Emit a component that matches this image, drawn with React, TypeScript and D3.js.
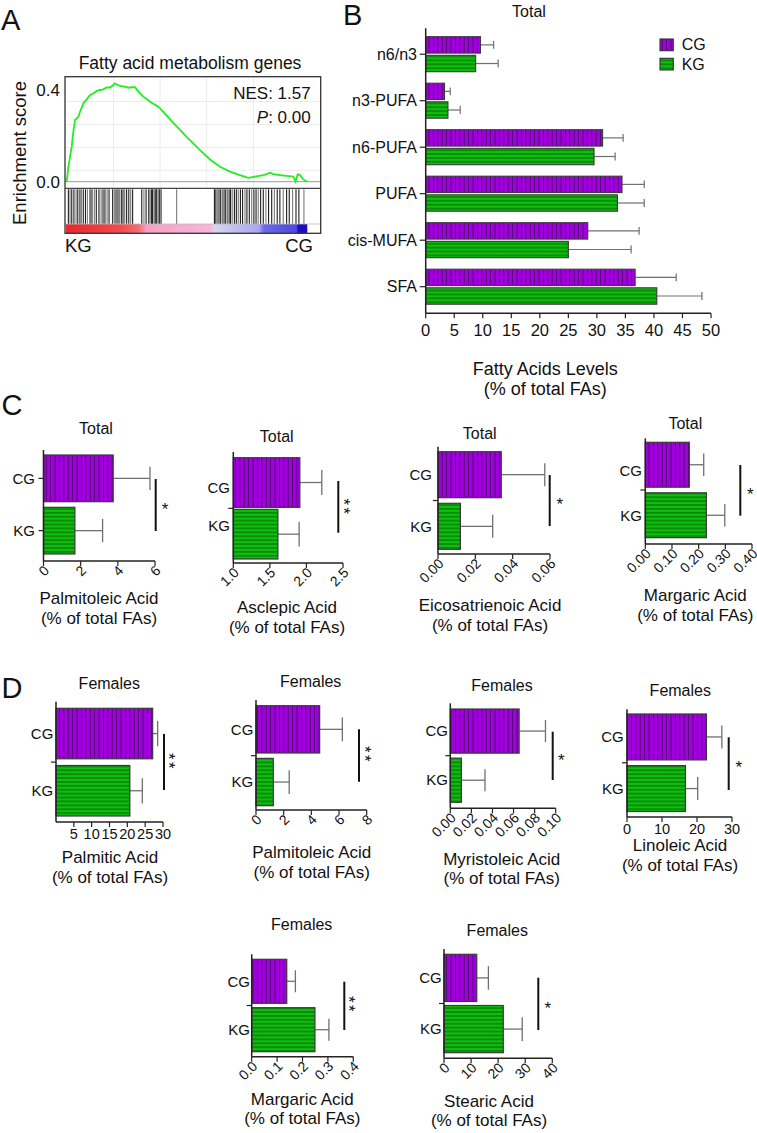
import React from "react";
import * as d3 from "d3";

const FONT = "Arial, 'Liberation Sans', Helvetica, sans-serif";
const PURPLE = "#a000dc";
const PURPLE_LINE = "#4d0a6e";
const GREEN = "#0cc00c";
const GREEN_LINE = "#0a4a0a";
const ERR = "#707070";
const AXIS = "#222";

// ---------------- Panel A: GSEA enrichment plot ----------------
const esRankPct = [0, 0.69, 1.39, 2.08, 2.77, 3.46, 4.16, 4.85, 5.54, 6.93, 8.31, 9.7, 11.08, 12.47, 13.85, 15.24, 16.62, 18.01, 19.39, 20.08, 21.47, 22.85, 24.24, 25.62, 27.01, 28.39, 29.78, 31.86, 34.63, 38.09, 40.17, 44.32, 49.86, 55.4, 59.56, 63.71, 67.87, 72.02, 75.48, 78.25, 81.72, 83.1, 84.49, 85.87, 88.64, 91.41, 94.18, 95.15, 95.98, 96.95, 98.34, 100];
const esValues = [0, 0.065, 0.109, 0.153, 0.218, 0.269, 0.276, 0.284, 0.305, 0.342, 0.359, 0.378, 0.385, 0.396, 0.4, 0.403, 0.411, 0.411, 0.422, 0.429, 0.42, 0.417, 0.415, 0.41, 0.412, 0.412, 0.393, 0.371, 0.349, 0.327, 0.305, 0.257, 0.196, 0.138, 0.097, 0.065, 0.044, 0.029, 0.017, 0.022, 0.029, 0.033, 0.039, 0.033, 0.029, 0.025, 0.022, 0.0, 0.032, 0.029, 0.01, 0.0];
const hitRankPct = [0.7, 1.4, 2.1, 3.0, 3.9, 4.6, 5.5, 6.1, 6.9, 7.8, 8.6, 9.7, 10.5, 11.5, 12.3, 13.4, 14.3, 15.1, 15.9, 16.8, 17.6, 19.1, 19.8, 20.5, 21.3, 21.9, 22.7, 23.4, 24.1, 24.9, 25.8, 26.6, 27.4, 31.2, 32.1, 33.0, 34.1, 34.6, 35.2, 35.7, 36.3, 36.8, 37.4, 38.0, 38.5, 39.2, 45.7, 61.4, 62.0, 62.6, 63.3, 64.0, 64.7, 65.4, 66.1, 66.8, 67.5, 68.1, 68.8, 69.7, 70.5, 71.3, 72.2, 73.1, 74.1, 74.9, 75.9, 76.9, 77.8, 78.7, 79.6, 80.6, 81.7, 82.8, 83.9, 85.2, 86.3, 87.5, 88.6, 90.0, 91.4, 92.5, 93.9, 95.3, 96.5, 98.6];
const esTicks = [0.0, 0.4];

// ---------------- Panel B: total fatty acid levels ----------------
const groups = ["CG", "KG"];
const faCategories = ["n6/n3", "n3-PUFA", "n6-PUFA", "PUFA", "cis-MUFA", "SFA"];
const cgLevels = [9.6, 3.3, 31.0, 34.4, 28.4, 36.7];
const kgLevels = [8.75, 3.9, 29.5, 33.6, 25.0, 40.5];
const cgLevelsErr = [2.3, 1.0, 3.6, 3.9, 9.0, 7.2];
const kgLevelsErr = [3.95, 2.15, 3.7, 4.7, 11.0, 7.9];
const levelTicks = [0, 5, 10, 15, 20, 25, 30, 35, 40, 45, 50];

// ---------------- Panels C & D: individual acids ----------------
const acidNames = ["Palmitoleic Acid", "Asclepic Acid", "Eicosatrienoic Acid", "Margaric Acid", "Palmitic Acid", "Palmitoleic Acid", "Myristoleic Acid", "Linoleic Acid", "Margaric Acid", "Stearic Acid"];
const acidSubsets = ["Total", "Total", "Total", "Total", "Females", "Females", "Females", "Females", "Females", "Females"];
const acidCG = [3.75, 1.91, 0.0339, 0.165, 27.1, 4.6, 0.0653, 22.7, 0.138, 12.1];
const acidKG = [1.69, 1.61, 0.012, 0.229, 20.7, 1.25, 0.0105, 16.7, 0.249, 21.9];
const acidCGErr = [1.98, 0.3, 0.0233, 0.054, 1.4, 1.64, 0.025, 4.4, 0.034, 4.3];
const acidKGErr = [1.49, 0.29, 0.0173, 0.069, 3.5, 1.15, 0.0224, 3.5, 0.055, 7.0];
const acidStars = ["*", "**", "*", "*", "**", "**", "*", "*", "**", "*"];
const acidAxisMin = [0, 1, 0, 0, 0, 0, 0, 0, 0, 0];
const acidAxisMax = [6, 2.5, 0.06, 0.4, 30, 8, 0.1, 30, 0.4, 40];
const acidTicks = [
  [0, 2, 4, 6],
  [1, 1.5, 2, 2.5],
  [0, 0.02, 0.04, 0.06],
  [0, 0.1, 0.2, 0.3, 0.4],
  [5, 10, 15, 20, 25, 30],
  [0, 2, 4, 6, 8],
  [0, 0.02, 0.04, 0.06, 0.08, 0.1],
  [0, 10, 20, 30],
  [0, 0.1, 0.2, 0.3, 0.4],
  [0, 10, 20, 30, 40],
];
const acidTickFormat = ["d", ".1f", ".2f", ".2f", "d", "d", ".2f", "d", ".1f", "d"];

// layout of the small charts (pixel positions only)
type Mini = {
  x0: number; x1: number; axisTop: number; cgTop: number; kgBot: number; gap: number; axisY: number;
  tick: "center" | "between"; labelRight: number; shift: [number, number];
  sigX: number; sigY: [number, number]; star: [number, number];
  title: [number, number]; xlab: [number, number, number]; rotated: boolean;
};
const miniLayout: Mini[] = [
  { x0: 43.5, x1: 155, axisTop: 450, cgTop: 455, kgBot: 554, gap: 5.6, axisY: 561, tick: "center", labelRight: 35, shift: [0, 0], sigX: 155.7, sigY: [479, 531], star: [165, 505], title: [96, 428], xlab: [99, 598, 618], rotated: true },
  { x0: 233.3, x1: 343, axisTop: 452, cgTop: 457.7, kgBot: 559, gap: 2, axisY: 563, tick: "between", labelRight: 230, shift: [5, -8], sigX: 338.3, sigY: [481, 532.7], star: [347.7, 507.5], title: [276.7, 436.7], xlab: [287, 607, 627], rotated: true },
  { x0: 438, x1: 550, axisTop: 446.7, cgTop: 451.7, kgBot: 549.3, gap: 5.6, axisY: 554, tick: "between", labelRight: 432, shift: [0, 0], sigX: 549.7, sigY: [475, 526], star: [559.7, 500], title: [479.7, 433.3], xlab: [490, 605, 625], rotated: true },
  { x0: 645.3, x1: 752, axisTop: 438.3, cgTop: 442.3, kgBot: 537.7, gap: 5.6, axisY: 544, tick: "between", labelRight: 642, shift: [6, 0], sigX: 740.3, sigY: [465, 515.7], star: [750.3, 490], title: [685.3, 423.3], xlab: [695.3, 595, 615], rotated: true },
  { x0: 56, x1: 163, axisTop: 701.7, cgTop: 708.3, kgBot: 816, gap: 6.7, axisY: 822, tick: "between", labelRight: 53.3, shift: [0, 0], sigX: 164, sigY: [734, 790], star: [173.3, 762], title: [109.3, 683.3], xlab: [110, 857, 877], rotated: false },
  { x0: 256, x1: 366.7, axisTop: 700, cgTop: 705.7, kgBot: 805.7, gap: 5.4, axisY: 810, tick: "between", labelRight: 253.3, shift: [0, 0], sigX: 359, sigY: [729.3, 781.7], star: [369.3, 755], title: [310.7, 681.7], xlab: [311.7, 851.7, 871.7], rotated: true },
  { x0: 450.3, x1: 555.7, axisTop: 703.3, cgTop: 709, kgBot: 802.3, gap: 5, axisY: 808.3, tick: "between", labelRight: 448, shift: [0, 0], sigX: 552.7, sigY: [731.7, 780], star: [561.3, 756], title: [502, 685], xlab: [501.7, 859, 877.7], rotated: true },
  { x0: 627, x1: 732, axisTop: 709.3, cgTop: 714, kgBot: 811.5, gap: 5.7, axisY: 817, tick: "between", labelRight: 623.7, shift: [0, 0], sigX: 728.7, sigY: [737.3, 790], star: [738.7, 763.3], title: [680.3, 690], xlab: [680, 845, 865], rotated: false },
  { x0: 251.7, x1: 353.3, axisTop: 954.3, cgTop: 959.3, kgBot: 1051.7, gap: 4.4, axisY: 1056.7, tick: "between", labelRight: 250, shift: [0, 0], sigX: 344.3, sigY: [981.7, 1030], star: [353.3, 1005], title: [301.7, 924.3], xlab: [302.3, 1099, 1117.7], rotated: true },
  { x0: 444, x1: 552.3, axisTop: 949, cgTop: 954.3, kgBot: 1052.7, gap: 4, axisY: 1058.3, tick: "between", labelRight: 441.7, shift: [0, 0], sigX: 538.3, sigY: [977.7, 1030], star: [547.7, 1004], title: [497.3, 930], xlab: [489, 1101, 1120], rotated: true },
];

const fillFor = (g: string) => (g === "CG" ? "url(#patCG)" : "url(#patKG)");

function Stars({ text, x, y }: { text: string; x: number; y: number }) {
  const fs = 17;
  if (text.length === 1) {
    return (
      <text x={x} y={y + fs * 0.58} fontSize={fs} textAnchor="middle" fontFamily={FONT} fill="#111">
        {text}
      </text>
    );
  }
  // stacked stars: the text is turned a quarter turn, as in the reference
  return (
    <text transform={`translate(${x - fs * 0.58},${y}) rotate(90)`} fontSize={fs} textAnchor="middle" fontFamily={FONT} fill="#111" letterSpacing={2.4}>
      {text}
    </text>
  );
}

function MiniChart({ i }: { i: number }) {
  const L = miniLayout[i];
  const x = d3.scaleLinear().domain([acidAxisMin[i], acidAxisMax[i]]).range([L.x0, L.x1]);
  const step = (L.kgBot - L.cgTop + L.gap) / 2;
  const y = d3.scaleBand<string>().domain(groups).range([L.cgTop, L.kgBot]).paddingInner(L.gap / step).paddingOuter(0);
  const bw = y.bandwidth();
  const vals = [acidCG[i], acidKG[i]];
  const errs = [acidCGErr[i], acidKGErr[i]];
  const fmt = d3.format(acidTickFormat[i]);
  const base = acidAxisMin[i];
  const tickYs =
    L.tick === "center"
      ? groups.map((g) => (y(g) as number) + bw / 2)
      : [((y("CG") as number) + bw + (y("KG") as number)) / 2];
  return (
    <g fontFamily={FONT}>
      <text x={L.title[0]} y={L.title[1]} dy="0.35em" fontSize={16} textAnchor="middle" fill="#111">
        {acidSubsets[i]}
      </text>
      {groups.map((g, k) => {
        const y0 = y(g) as number;
        const xv = x(vals[k]);
        const xe = x(vals[k] + errs[k]);
        const cy = y0 + bw / 2;
        return (
          <g key={g}>
            <line x1={xv} x2={xe} y1={cy} y2={cy} stroke={ERR} strokeWidth={1.3} />
            <line x1={xe} x2={xe} y1={cy - bw * 0.25} y2={cy + bw * 0.25} stroke={ERR} strokeWidth={1.3} />
            <rect x={x(base)} y={y0} width={xv - x(base)} height={bw} fill={fillFor(g)} stroke="#3a3a3a" strokeWidth={1.2} />
            <text x={L.labelRight} y={cy + L.shift[k]} dy="0.35em" fontSize={15} textAnchor="end" fill="#111">
              {g}
            </text>
          </g>
        );
      })}
      {tickYs.map((ty, k) => (
        <line key={k} x1={L.x0 - 5} x2={L.x0} y1={ty} y2={ty} stroke={AXIS} strokeWidth={1.2} />
      ))}
      <line x1={L.x0} x2={L.x0} y1={L.axisTop} y2={L.axisY} stroke={AXIS} strokeWidth={1.5} />
      <line x1={L.x0} x2={L.x1} y1={L.axisY} y2={L.axisY} stroke={AXIS} strokeWidth={1.5} />
      {acidTicks[i].map((t) => (
        <g key={t}>
          <line x1={x(t)} x2={x(t)} y1={L.axisY} y2={L.axisY + 5} stroke={AXIS} strokeWidth={1.2} />
          {L.rotated ? (
            <text transform={`translate(${x(t) + 3},${L.axisY + 7}) rotate(-45)`} dy="0.35em" fontSize={14} textAnchor="end" fill="#111">
              {fmt(t)}
            </text>
          ) : (
            <text x={x(t)} y={L.axisY + 12} dy="0.35em" fontSize={14.5} textAnchor="middle" fill="#111">
              {fmt(t)}
            </text>
          )}
        </g>
      ))}
      <line x1={L.sigX} x2={L.sigX} y1={L.sigY[0]} y2={L.sigY[1]} stroke="#111" strokeWidth={2} />
      <Stars text={acidStars[i]} x={L.star[0]} y={L.star[1]} />
      <text x={L.xlab[0]} y={L.xlab[1]} dy="0.35em" fontSize={17} textAnchor="middle" fill="#111">
        {acidNames[i]}
      </text>
      <text x={L.xlab[0]} y={L.xlab[2]} dy="0.35em" fontSize={17} textAnchor="middle" fill="#111">
        (% of total FAs)
      </text>
    </g>
  );
}

function PanelA() {
  const left = 66.7, right = 307.3;
  const x = d3.scaleLinear().domain([0, 100]).range([left, right]);
  const y = d3.scaleLinear().domain([0, 0.4]).range([181.7, 90]);
  const pts = esRankPct.map((r, k) => [r, esValues[k]] as [number, number]);
  const line = d3.line<[number, number]>().x((d) => x(d[0])).y((d) => y(d[1]));
  const boxL = 65, boxR = 320.7, boxT = 76.7, boxB = 233.3, divY = 188.3, barT = 224;
  return (
    <g fontFamily={FONT}>
      <defs>
        <linearGradient id="rankGrad" x1="0" x2="1" y1="0" y2="0">
          <stop offset="0" stopColor="#e42a2c" />
          <stop offset="0.22" stopColor="#f04a4e" />
          <stop offset="0.3" stopColor="#f36b72" />
          <stop offset="0.335" stopColor="#f6a2c4" />
          <stop offset="0.6" stopColor="#f6b6dc" />
          <stop offset="0.615" stopColor="#d8d4f4" />
          <stop offset="0.8" stopColor="#a9a5ee" />
          <stop offset="0.82" stopColor="#6d69e6" />
          <stop offset="0.955" stopColor="#4c48de" />
          <stop offset="0.962" stopColor="#1c0cc4" />
          <stop offset="1" stopColor="#1c0cc4" />
        </linearGradient>
      </defs>
      <text x={190} y={63.3} dy="0.35em" fontSize={17.5} textAnchor="middle" fill="#111">
        Fatty acid metabolism genes
      </text>
      {[19.4, 38.8, 58.2, 77.6].map((r) => (
        <line key={r} x1={x(r)} x2={x(r)} y1={boxT} y2={divY} stroke="#ebebeb" strokeWidth={1} />
      ))}
      {[0.05, 0.15, 0.25, 0.35].map((v) => (
        <line key={v} x1={boxL} x2={boxR} y1={y(v)} y2={y(v)} stroke="#ebebeb" strokeWidth={1} />
      ))}
      <line x1={boxL} x2={boxR} y1={y(0)} y2={y(0)} stroke="#9a9a9a" strokeWidth={1} />
      <path d={line(pts) || ""} fill="none" stroke="#22ee22" strokeWidth={1.8} />
      {hitRankPct.map((r, k) => (
        <line key={k} x1={x(r)} x2={x(r)} y1={divY + 1} y2={barT} stroke={k % 3 === 1 ? "#7a7a7a" : "#1e1e1e"} strokeWidth={1.1} />
      ))}
      <rect x={left - 0.7} y={barT} width={right - left + 0.7} height={boxB - barT} fill="url(#rankGrad)" />
      <line x1={boxL} x2={boxR} y1={divY} y2={divY} stroke="#444" strokeWidth={1.2} />
      <line x1={boxL} x2={boxR} y1={barT} y2={barT} stroke="#bbb" strokeWidth={0.8} />
      <rect x={boxL} y={boxT} width={boxR - boxL} height={boxB - boxT} fill="none" stroke="#333" strokeWidth={1.3} />
      {esTicks.map((t) => (
        <text key={t} x={60} y={y(t)} dy="0.35em" fontSize={17} textAnchor="end" fill="#111">
          {d3.format(".1f")(t)}
        </text>
      ))}
      <text transform="translate(20,153) rotate(-90)" dy="0.35em" fontSize={18.5} textAnchor="middle" fill="#111">
        Enrichment score
      </text>
      <text x={310.7} y={93.3} dy="0.35em" fontSize={17} textAnchor="end" fill="#111">
        NES: 1.57
      </text>
      <text x={310.7} y={116.7} dy="0.35em" fontSize={17} textAnchor="end" fill="#111">
        <tspan fontStyle="italic">P</tspan>: 0.00
      </text>
      <text x={65} y={246} dy="0.35em" fontSize={18.5} textAnchor="start" fill="#111">
        KG
      </text>
      <text x={313} y={246} dy="0.35em" fontSize={18.5} textAnchor="end" fill="#111">
        CG
      </text>
    </g>
  );
}

function PanelB() {
  const x = d3.scaleLinear().domain([0, 50]).range([425.7, 711]);
  const y = d3.scaleBand<string>().domain(faCategories).range([30.95, 309.95]).paddingInner(0.247).paddingOuter(0.1235);
  const sub = d3.scaleBand<string>().domain(groups).range([0, y.bandwidth()]).paddingInner(0.12);
  const axisY = 313.3;
  const sb = sub.bandwidth();
  return (
    <g fontFamily={FONT}>
      <text x={529} y={11} dy="0.35em" fontSize={16} textAnchor="middle" fill="#111">
        Total
      </text>
      {faCategories.map((c, k) => {
        const gy = y(c) as number;
        const rows = [
          { g: "CG", v: cgLevels[k], e: cgLevelsErr[k] },
          { g: "KG", v: kgLevels[k], e: kgLevelsErr[k] },
        ];
        return (
          <g key={c}>
            {rows.map((r) => {
              const y0 = gy + (sub(r.g) as number);
              const cy = y0 + sb / 2;
              const xe = x(r.v + r.e);
              return (
                <g key={r.g}>
                  <line x1={x(r.v)} x2={xe} y1={cy} y2={cy} stroke={ERR} strokeWidth={1.2} />
                  <line x1={xe} x2={xe} y1={cy - sb * 0.24} y2={cy + sb * 0.24} stroke={ERR} strokeWidth={1.2} />
                  <rect x={x(0)} y={y0} width={x(r.v) - x(0)} height={sb} fill={fillFor(r.g)} stroke="#3a3a3a" strokeWidth={1.1} />
                </g>
              );
            })}
            <line x1={x(0) - 6} x2={x(0)} y1={gy + y.bandwidth() / 2} y2={gy + y.bandwidth() / 2} stroke={AXIS} strokeWidth={1.2} />
            <text x={417} y={gy + y.bandwidth() / 2} dy="0.35em" fontSize={16} textAnchor="end" fill="#111">
              {c}
            </text>
          </g>
        );
      })}
      <line x1={x(0)} x2={x(0)} y1={28.3} y2={axisY} stroke={AXIS} strokeWidth={1.5} />
      <line x1={x(0)} x2={x(50)} y1={axisY} y2={axisY} stroke={AXIS} strokeWidth={1.5} />
      {levelTicks.map((t) => (
        <g key={t}>
          <line x1={x(t)} x2={x(t)} y1={axisY} y2={axisY + 5} stroke={AXIS} strokeWidth={1.2} />
          <text x={x(t)} y={axisY + 17} dy="0.35em" fontSize={16.5} textAnchor="middle" fill="#111">
            {t}
          </text>
        </g>
      ))}
      <text x={545.3} y={368.3} dy="0.35em" fontSize={18} textAnchor="middle" fill="#111">
        Fatty Acids Levels
      </text>
      <text x={545.3} y={388.3} dy="0.35em" fontSize={18} textAnchor="middle" fill="#111">
        (% of total FAs)
      </text>
      {groups.map((g, k) => (
        <g key={g}>
          <rect x={660} y={39 + k * 19.3} width={13.3} height={11.7} fill={fillFor(g)} stroke="#333" strokeWidth={1.1} />
          <text x={681.7} y={44.8 + k * 19.3} dy="0.35em" fontSize={16} fill="#111">
            {g}
          </text>
        </g>
      ))}
    </g>
  );
}

export default function App() {
  return (
    <svg width={757} height={1133} viewBox="0 0 757 1133" style={{ position: "absolute", left: 0, top: 0, background: "#fff" }}>
      <defs>
        <pattern id="patCG" patternUnits="userSpaceOnUse" width={4.4} height={10}>
          <rect width={4.4} height={10} fill={PURPLE} />
          <line x1={2.2} x2={2.2} y1={0} y2={10} stroke={PURPLE_LINE} strokeWidth={0.9} />
        </pattern>
        <pattern id="patKG" patternUnits="userSpaceOnUse" width={10} height={3.9}>
          <rect width={10} height={3.9} fill={GREEN} />
          <line x1={0} x2={10} y1={1.95} y2={1.95} stroke={GREEN_LINE} strokeWidth={0.9} />
        </pattern>
      </defs>
      <rect width={757} height={1133} fill="#fff" />
      <g fontFamily={FONT} fontSize={29} fill="#111">
        <text x={1} y={30}>A</text>
        <text x={343} y={25}>B</text>
        <text x={1.5} y={415}>C</text>
        <text x={1.5} y={698}>D</text>
      </g>
      <PanelA />
      <PanelB />
      {miniLayout.map((_, i) => (
        <MiniChart key={i} i={i} />
      ))}
    </svg>
  );
}
